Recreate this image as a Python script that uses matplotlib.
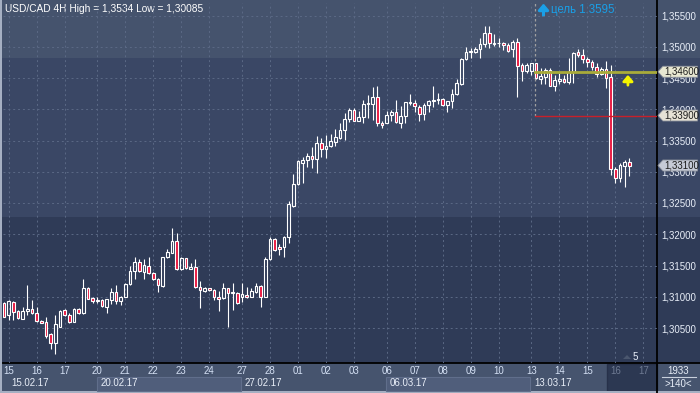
import matplotlib
matplotlib.use("Agg")
import matplotlib.pyplot as plt
from matplotlib.patches import Rectangle, Polygon
from matplotlib.transforms import blended_transform_factory

plt.rcParams["font.family"] = ["Liberation Sans", "DejaVu Sans"]

# USD/CAD 4H candles, one per bar, left to right (index = bar number)
OPEN = [
    1.30905, 1.30708, 1.30921, 1.30772, 1.30644, 1.30772, 1.30804, 1.30735, 1.30617, 1.30591,
    1.30399, 1.30255, 1.30521, 1.30788, 1.30708, 1.30601, 1.30804, 1.30735, 1.31135, 1.30975,
    1.30932, 1.30948, 1.30841, 1.30948, 1.31071, 1.30937, 1.31001, 1.31199, 1.31412, 1.31561,
    1.31401, 1.31492, 1.31385, 1.31279, 1.31172, 1.31631, 1.31705, 1.31887, 1.31439, 1.31615,
    1.31449, 1.31471, 1.31161, 1.31092, 1.31135, 1.31108, 1.31001, 1.30975, 1.31135, 1.31065,
    1.31065, 1.30991, 1.31028, 1.31001, 1.31081, 1.31172, 1.31001, 1.31604, 1.31924, 1.31801,
    1.31801, 1.31951, 1.32457, 1.32799, 1.33145, 1.33188, 1.33247, 1.33199, 1.33455, 1.33359,
    1.33412, 1.33481, 1.33545, 1.33668, 1.33839, 1.33988, 1.33817, 1.33871, 1.34079, 1.34079,
    1.34191, 1.33785, 1.33785, 1.33903, 1.33951, 1.33785, 1.33892, 1.34095, 1.34095, 1.34041,
    1.33919, 1.34063, 1.34127, 1.34148, 1.34159, 1.34063, 1.34127, 1.34244, 1.34399, 1.34799,
    1.34911, 1.34911, 1.34959, 1.35039, 1.35215, 1.35044, 1.35055, 1.35055, 1.35023, 1.34959,
    1.35071, 1.34708, 1.34617, 1.34617, 1.34735, 1.34489, 1.34521, 1.34628, 1.34377, 1.34457,
    1.34479, 1.34441, 1.34601, 1.34911, 1.34868, 1.34799, 1.34751, 1.34671, 1.34564, 1.34644,
    1.34511, 1.33039, 1.32905, 1.33097, 1.33151,
]
HIGH = [
    1.30921, 1.30948, 1.30932, 1.30788, 1.30831, 1.31188, 1.30948, 1.30831, 1.30628, 1.30671,
    1.30415, 1.30708, 1.30788, 1.30799, 1.30735, 1.30815, 1.30815, 1.31279, 1.31151, 1.30991,
    1.31001, 1.30959, 1.30969, 1.31135, 1.31188, 1.31012, 1.31215, 1.31497, 1.31631, 1.31599,
    1.31599, 1.31631, 1.31401, 1.31295, 1.31641, 1.31769, 1.32100, 1.32015, 1.31631, 1.31626,
    1.31535, 1.31599, 1.31252, 1.31151, 1.31145, 1.31119, 1.31097, 1.31215, 1.31145, 1.31215,
    1.31076, 1.31215, 1.31151, 1.31135, 1.31215, 1.31183, 1.31641, 1.31951, 1.31935, 1.31844,
    1.31972, 1.32537, 1.32964, 1.33188, 1.33241, 1.33295, 1.33391, 1.33572, 1.33535, 1.33588,
    1.33604, 1.33679, 1.33775, 1.33935, 1.34015, 1.34015, 1.33977, 1.34148, 1.34228, 1.34351,
    1.34372, 1.33812, 1.33977, 1.33988, 1.34148, 1.34052, 1.34121, 1.34244, 1.34148, 1.34068,
    1.34105, 1.34148, 1.34372, 1.34255, 1.34175, 1.34137, 1.34319, 1.34479, 1.34815, 1.34991,
    1.34975, 1.35001, 1.35135, 1.35340, 1.35340, 1.35204, 1.35135, 1.35081, 1.35055, 1.35108,
    1.35135, 1.34735, 1.34735, 1.34745, 1.34745, 1.34655, 1.34655, 1.34655, 1.34548, 1.34575,
    1.34548, 1.34815, 1.34921, 1.34959, 1.34959, 1.34841, 1.34788, 1.34735, 1.34681, 1.34777,
    1.34708, 1.33081, 1.33145, 1.33188, 1.33215,
]
LOW = [
    1.30671, 1.30628, 1.30628, 1.30644, 1.30644, 1.30708, 1.30724, 1.30601, 1.30575, 1.30345,
    1.30159, 1.30085, 1.30511, 1.30692, 1.30585, 1.30601, 1.30724, 1.30724, 1.30959, 1.30895,
    1.30895, 1.30831, 1.30735, 1.30879, 1.30879, 1.30868, 1.30991, 1.31188, 1.31279, 1.31401,
    1.31279, 1.31364, 1.31268, 1.31081, 1.31161, 1.31615, 1.31695, 1.31428, 1.31428, 1.31444,
    1.31439, 1.31140, 1.30815, 1.31081, 1.31097, 1.30948, 1.30777, 1.30964, 1.30511, 1.30788,
    1.30884, 1.30921, 1.30980, 1.30991, 1.31065, 1.30831, 1.30991, 1.31593, 1.31737, 1.31668,
    1.31631, 1.31865, 1.32441, 1.32788, 1.32825, 1.33081, 1.33055, 1.32975, 1.33241, 1.33225,
    1.33401, 1.33412, 1.33529, 1.33508, 1.33801, 1.33807, 1.33807, 1.33775, 1.33855, 1.33828,
    1.33737, 1.33705, 1.33775, 1.33812, 1.33780, 1.33705, 1.33775, 1.34068, 1.33961, 1.33817,
    1.33828, 1.33961, 1.34031, 1.34079, 1.34052, 1.33961, 1.34015, 1.34233, 1.34388, 1.34788,
    1.34815, 1.34900, 1.34815, 1.35001, 1.34975, 1.35012, 1.35001, 1.34948, 1.34921, 1.34841,
    1.34201, 1.34457, 1.34575, 1.34548, 1.34484, 1.34399, 1.34399, 1.34372, 1.34297, 1.34404,
    1.34415, 1.34404, 1.34425, 1.34841, 1.34745, 1.34681, 1.34628, 1.34511, 1.34548, 1.34335,
    1.32948, 1.32825, 1.32841, 1.32761, 1.32937,
]
CLOSE = [
    1.30681, 1.30937, 1.30761, 1.30655, 1.30772, 1.30799, 1.30735, 1.30617, 1.30585, 1.30372,
    1.30255, 1.30564, 1.30777, 1.30708, 1.30601, 1.30799, 1.30735, 1.31135, 1.30969, 1.30937,
    1.30953, 1.30852, 1.30959, 1.31071, 1.30937, 1.31001, 1.31204, 1.31412, 1.31556, 1.31412,
    1.31508, 1.31375, 1.31279, 1.31188, 1.31631, 1.31716, 1.31887, 1.31439, 1.31615, 1.31455,
    1.31481, 1.31151, 1.31108, 1.31135, 1.31108, 1.30991, 1.30959, 1.31135, 1.31055, 1.31081,
    1.30895, 1.31039, 1.30991, 1.31092, 1.31172, 1.31001, 1.31599, 1.31924, 1.31748, 1.31759,
    1.31951, 1.32484, 1.32804, 1.33172, 1.33188, 1.33247, 1.33199, 1.33455, 1.33359, 1.33412,
    1.33492, 1.33556, 1.33668, 1.33839, 1.33988, 1.33817, 1.33871, 1.34084, 1.34095, 1.34201,
    1.33775, 1.33748, 1.33908, 1.33951, 1.33791, 1.33892, 1.34111, 1.34111, 1.34052, 1.33919,
    1.34063, 1.34127, 1.34148, 1.34159, 1.34063, 1.34127, 1.34244, 1.34415, 1.34804, 1.34921,
    1.34932, 1.34964, 1.35039, 1.35215, 1.35055, 1.35065, 1.35065, 1.35023, 1.34937, 1.35071,
    1.34697, 1.34617, 1.34708, 1.34735, 1.34495, 1.34532, 1.34628, 1.34377, 1.34468, 1.34479,
    1.34441, 1.34601, 1.34905, 1.34868, 1.34799, 1.34751, 1.34671, 1.34564, 1.34644, 1.34495,
    1.33039, 1.32905, 1.33108, 1.33161, 1.33100,
]

# first bar of each trading day, and the day labels on the time axis
DAY_START = [1, 7, 13, 20, 26, 32, 38, 44, 51, 57, 63, 69, 75, 82, 88, 94, 100, 106,
             113, 119, 125, 131, 137]
DAY_LABELS = ["15", "16", "17", "20", "21", "22", "23", "24", "27", "28", "01", "02", "03",
              "06", "07", "08", "09", "10", "13", "14", "15", "16", "17"]
WEEK_START = [1, 20, 51, 82, 113]
WEEK_LABELS = ["15.02.17", "20.02.17", "27.02.17", "06.03.17", "13.03.17"]
PRICE_TICKS = [1.305, 1.310, 1.315, 1.320, 1.325, 1.330, 1.335, 1.340, 1.345, 1.350, 1.355]

LEVEL_YELLOW = 1.346
LEVEL_RED = 1.339
LAST_PRICE = 1.331
MARK_BAR = 113.8
ARROW_BAR = 133.7

RED = "#e8173f"
GRID = "#5b6985"

fig = plt.figure(figsize=(7, 3.93), dpi=100)
fig.patch.set_facecolor("#2f3b57")

# background / frame, in pixel coordinates
bg = fig.add_axes([0, 0, 1, 1])
bg.set_xlim(0, 700)
bg.set_ylim(393, 0)
bg.axis("off")
for y0, y1, c in [(0, 58, "#45536d"), (58, 217, "#3a4765"), (217, 363, "#2f3b57")]:
    bg.add_patch(Rectangle((0, y0), 700, y1 - y0, color=c, lw=0))
bg.add_patch(Rectangle((0, 363), 700, 30, color="#46546e", lw=0))
bg.add_patch(Rectangle((607, 364), 50, 27, facecolor="#2c3852", edgecolor="#27314a", lw=1))
bg.add_patch(Rectangle((0, 0), 2, 393, color="#a5afc2", lw=0))
bg.add_patch(Rectangle((0, 391), 700, 2, color="#a5afc2", lw=0))
bg.plot([3, 700], [363, 363], color="black", lw=1.3)
bg.plot([657, 657], [0, 393], color="black", lw=1.3)
bg.text(5, 8.5, "USD/CAD 4H High = 1,3534 Low = 1,30085", color="white", fontsize=7.3,
        va="center", ha="left")
bg.annotate("", xy=(543.5, 3.5), xytext=(543.5, 15.5),
            arrowprops=dict(arrowstyle="-|>,head_width=0.3,head_length=0.35",
                            color="#1a9fe6", lw=2.2, shrinkA=0, shrinkB=0))
bg.text(551, 9.5, "цель 1.3595", color="#1a9fe6", fontsize=8.3, va="center", ha="left")
bg.add_patch(Polygon([[623, 359], [627, 355], [631, 359]], color="#4a566e", lw=0))
bg.text(633, 357, "5", color="#e8eef8", fontsize=7, va="center", ha="left")
bg.text(678, 370.5, "1933", color="#e8eef8", fontsize=7, va="center", ha="center")
bg.plot([662, 696], [377, 377], color="#c8d0dc", lw=0.8)
bg.text(678, 384, ">140<", color="#e8eef8", fontsize=7, va="center", ha="center")

ax = fig.add_axes([3 / 700, 30 / 393, 654 / 700, 360 / 393])
ax.set_facecolor("none")
ax.set_xlim(-0.21, 139.93)
ax.set_ylim(1.2994, 1.357)
for s in ax.spines.values():
    s.set_visible(False)

x = list(range(len(OPEN)))
body_lo = [min(o, c) for o, c in zip(OPEN, CLOSE)]
body_hi = [max(o, c) for o, c in zip(OPEN, CLOSE)]
ax.vlines(x, LOW, body_lo, color="white", lw=0.8, zorder=3)
ax.vlines(x, body_hi, HIGH, color="white", lw=0.8, zorder=3)
fills = [RED if c < o else "none" for o, c in zip(OPEN, CLOSE)]
heights = [max(h - l, 0.00002) for h, l in zip(body_hi, body_lo)]
ax.bar(x, heights, bottom=body_lo, width=0.55, color=fills, edgecolor="white",
       linewidth=0.8, zorder=4)

# levels and marks
ax.plot([MARK_BAR, 139.93], [LEVEL_YELLOW, LEVEL_YELLOW], color="#a9ab3a", lw=2, zorder=5)
ax.plot([MARK_BAR, 139.93], [LEVEL_RED, LEVEL_RED], color="#c8202a", lw=1, zorder=5)
ax.plot([MARK_BAR, MARK_BAR], [LEVEL_RED, 1.357], color="#a0a0a0", lw=0.9,
        linestyle=(0, (2, 2)), zorder=2)
ax.annotate("", xy=(ARROW_BAR, 1.3455), xytext=(ARROW_BAR, 1.34385),
            arrowprops=dict(arrowstyle="-|>,head_width=0.3,head_length=0.35",
                            color="#f5f500", lw=2, shrinkA=0, shrinkB=0), zorder=6)

# axes, ticks, grid
ax.yaxis.tick_right()
ax.set_yticks(PRICE_TICKS)
ax.set_yticklabels([f"{v:.5f}".replace(".", ",") for v in PRICE_TICKS])
ax.tick_params(axis="y", length=0, pad=3, labelsize=7, labelcolor="#e8eef8")
ax.set_xticks(DAY_START)
ax.set_xticklabels(DAY_LABELS)
ax.tick_params(axis="x", length=0, pad=2.5, labelsize=7, labelcolor="#d4e0f4")
for lab in ax.get_xticklabels()[-2:]:
    lab.set_color("#6e7a92")
ax.grid(True, color=GRID, linestyle=(0, (2, 3)), lw=0.7)
ax.set_axisbelow(True)

# week labels under the day numbers
xt = ax.get_xaxis_transform()
for i, (ws, wl) in enumerate(zip(WEEK_START, WEEK_LABELS)):
    if i % 2 == 1:
        nxt = WEEK_START[i + 1]
        ax.add_patch(Rectangle((ws - 0.1, -0.0778), nxt - ws - 0.1, 0.039, transform=xt,
                               facecolor="#505e7b", edgecolor="#606e8b", lw=0.8,
                               clip_on=False))
    ax.text(ws + 0.6, -0.0547, wl, transform=xt, color="#e8eef8", fontsize=7,
            va="center", ha="left", clip_on=False)

# price tags on the right scale (they cover the plain tick label underneath)
tr = blended_transform_factory(ax.transAxes, ax.transData)
for level, fill in [(LEVEL_YELLOW, "#e8e8d2"), (LEVEL_RED, "#e6e2d6"), (LAST_PRICE, "#c6cad6")]:
    h = 0.00088
    ax.add_patch(Polygon([[1.0015, level], [1.009, level + h], [1.062, level + h],
                          [1.062, level - h], [1.009, level - h]], closed=True,
                         transform=tr, facecolor=fill, edgecolor="#8a8f9a", lw=0.6,
                         clip_on=False, zorder=8))
    ax.text(1.0105, level, f"{level:.5f}".replace(".", ","), transform=tr, color="#1c1c1c",
            fontsize=7, va="center", ha="left", clip_on=False, zorder=9)

fig.savefig("out.png", dpi=100)
